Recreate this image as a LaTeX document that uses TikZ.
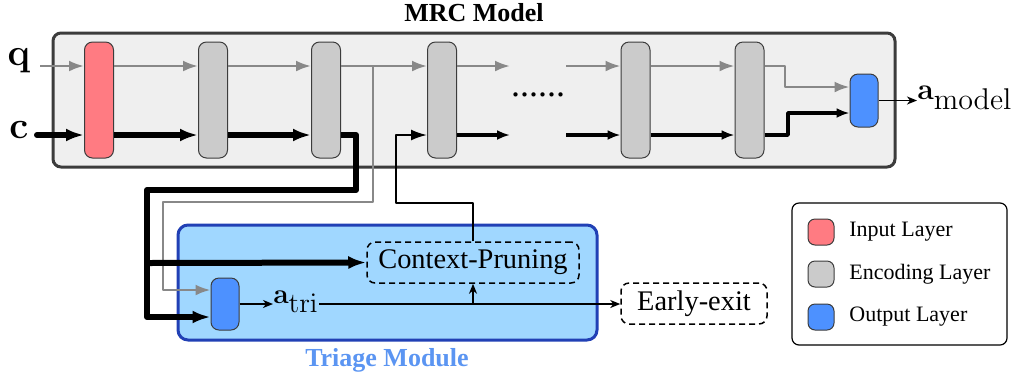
\RequirePackage{fix-cm}
\documentclass[tikz,border=0pt]{standalone}
\usepackage[no-math]{fontspec}
\setmainfont{Liberation Serif}
\usetikzlibrary{arrows.meta,calc}
\definecolor{mrcfill}{HTML}{EFEFEF}
\definecolor{mrcdraw}{HTML}{3C3C3C}
\definecolor{inputc}{HTML}{FF7B82}
\definecolor{encc}{HTML}{CBCBCB}
\definecolor{outc}{HTML}{4D91FF}
\definecolor{trifill}{HTML}{A0D7FF}
\definecolor{tridraw}{HTML}{2140B5}
\definecolor{tritext}{HTML}{5B95F2}
\definecolor{grayline}{HTML}{888888}
\begin{document}
\begin{tikzpicture}[x=0.5pt,y=-0.5pt,
  layerbox/.style={draw=mrcdraw,line width=0.5pt,rounded corners=4pt,minimum width=14.5pt,minimum height=58pt,inner sep=0pt},
  outbox/.style={draw=mrcdraw,line width=0.5pt,rounded corners=4pt,fill=outc,minimum width=14pt,inner sep=0pt},
  dashbox/.style={draw,dashed,dash pattern=on 3pt off 2pt,line width=0.75pt,rounded corners=4pt,inner sep=0pt,font=\fontsize{14.2}{16}\selectfont},
  legsq/.style={draw=mrcdraw,line width=0.5pt,rounded corners=3.5pt,minimum size=13pt,inner sep=0pt},
  legtext/.style={anchor=west,inner sep=0pt,font=\fontsize{11}{13}\selectfont},
  grayarr/.style={draw=grayline,line width=1.3pt,line join=round,-{Latex[length=7.5pt,width=5.5pt]}},
  thickarr/.style={line width=3pt,line join=round,-{Latex[length=9pt,width=6.5pt]}},
  medarr/.style={line width=1.75pt,line join=round,-{Latex[length=6.5pt,width=5pt]}},
  linkarr/.style={line width=1pt,line join=round,-{Latex[length=8pt,width=5.5pt]}},
  thinarr/.style={line width=0.75pt,-{Stealth[length=5pt,width=4pt,inset=1.5pt]}},
  title/.style={font=\bfseries\fontsize{13}{15}\selectfont,inner sep=0pt}
]
\useasboundingbox (0,0) rectangle (1011,377);
% MRC frame
\draw[draw=mrcdraw,fill=mrcfill,line width=1.5pt,rounded corners=4pt] (53,33) rectangle (895,167);
\node[title] (mrct) at (474,13) {MRC Model};
% Triage frame
\draw[draw=tridraw,fill=trifill,line width=1.5pt,rounded corners=5pt] (178,225) rectangle (597,340);
\node[title,text=tritext] (trit) at (387,360) {Triage Module};
% helper rows
\coordinate (Q) at (0,66);
\coordinate (C) at (0,135);
% layers
\node[layerbox,fill=inputc] (in) at (99,100) {};
\node[layerbox,fill=encc] (e1) at (213,100) {};
\node[layerbox,fill=encc] (e2) at (326,100) {};
\node[layerbox,fill=encc] (e3) at (442,100) {};
\node[layerbox,fill=encc] (e4) at (635.5,100) {};
\node[layerbox,fill=encc] (e5) at (749.5,100) {};
\node[outbox,minimum height=26.5pt] (out) at (864,100.5) {};
\node[outbox,minimum height=26pt] (tout) at (225,304) {};
\node[inner sep=0pt,font=\fontsize{18}{18}\selectfont] (dots) at (538,95) {......};
% labels
\node[inner sep=0pt,font=\fontsize{19}{19}\selectfont] (ql) at (19,61) {$\mathbf{q}$};
\node[inner sep=0pt,font=\fontsize{19}{19}\selectfont] (cl) at (19,130) {$\mathbf{c}$};
\coordinate (qs) at (40,66);
\coordinate (cs) at (37,135);
% dashed boxes
\node[dashbox,minimum width=106pt,minimum height=20.5pt] (cp) at (473,262.5) {Context-Pruning};
\node[dashbox,minimum width=73pt,minimum height=20.5pt] (ee) at (694,303.5) {Early-exit};
% query (gray) path
\draw[grayarr] (qs) -- (in.west|-Q);
\draw[grayarr] (in.east|-Q) -- (e1.west|-Q);
\draw[grayarr] (e1.east|-Q) -- (e2.west|-Q);
\draw[grayarr] (e2.east|-Q) -- (e3.west|-Q);
\coordinate (q3e) at (510,66);
\coordinate (q4s) at (566,66);
\draw[grayarr] (e3.east|-Q) -- (q3e);
\draw[grayarr] (q4s) -- (e4.west|-Q);
\draw[grayarr] (e4.east|-Q) -- (e5.west|-Q);
\draw[grayarr] (e5.east|-Q) -- (785,66) -- (785,87) -- (out.west|-{(0,87)});
\draw[grayarr] (373,66) -- (373,202) -- (163,202) -- (163,290) -- (tout.west|-{(0,290)});
% context (black) path
\draw[thickarr,line cap=round] (cs) -- (in.west|-C);
\draw[thickarr] (in.east|-C) -- (e1.west|-C);
\draw[thickarr] (e1.east|-C) -- (e2.west|-C);
\draw[thickarr] (e2.east|-C) -- (356,135) -- (356,190) -- (147,190) -- (147,317) -- (tout.west|-{(0,317)});
\draw[thickarr] (147,263) -- (cp.west);
\draw[linkarr] (cp.north) -- (473,203) -- (396,203) -- (396,135) -- (e3.west|-C);
\coordinate (c3e) at (510,135);
\coordinate (c4s) at (566,135);
\draw[medarr] (e3.east|-C) -- (c3e);
\draw[medarr] (c4s) -- (e4.west|-C);
\draw[medarr] (e4.east|-C) -- (e5.west|-C);
\draw[medarr] (e5.east|-C) -- (788,135) -- (788,113) -- (out.west|-{(0,113)});
% outputs
\node[anchor=west,inner sep=0pt,font=\fontsize{15}{15}\selectfont] (am) at (917,98) {$\mathbf{a}_{\textstyle\mathrm{model}}$};
\draw[thinarr] (out.east) -- (am.west|-out.east);
\node[anchor=west,inner sep=0pt,font=\fontsize{14}{14}\selectfont] (at) at (273,302) {$\mathbf{a}_{\textstyle\mathrm{tri}}$};
\draw[thinarr] (tout.east) -- (at.west|-tout.east);
\coordinate (jn) at (473,304);
\draw[line width=0.75pt] (at.east|-jn) -- (jn);
\draw[thinarr] (jn) -- (ee.west|-jn);
\draw[thinarr] (jn) -- (cp.south);
% legend
\draw[line width=0.6pt,rounded corners=3.5pt] (792,203) rectangle (1007,345);
\node[legsq,fill=inputc] (l1) at (821,232) {};
\node[legsq,fill=encc] (l2) at (821,274) {};
\node[legsq,fill=outc] (l3) at (821,317) {};
\node[legtext] (t1) at (849,232) {Input Layer};
\node[legtext] (t2) at (849,274) {Encoding Layer};
\node[legtext] (t3) at (849,317) {Output Layer};
\end{tikzpicture}
\end{document}
